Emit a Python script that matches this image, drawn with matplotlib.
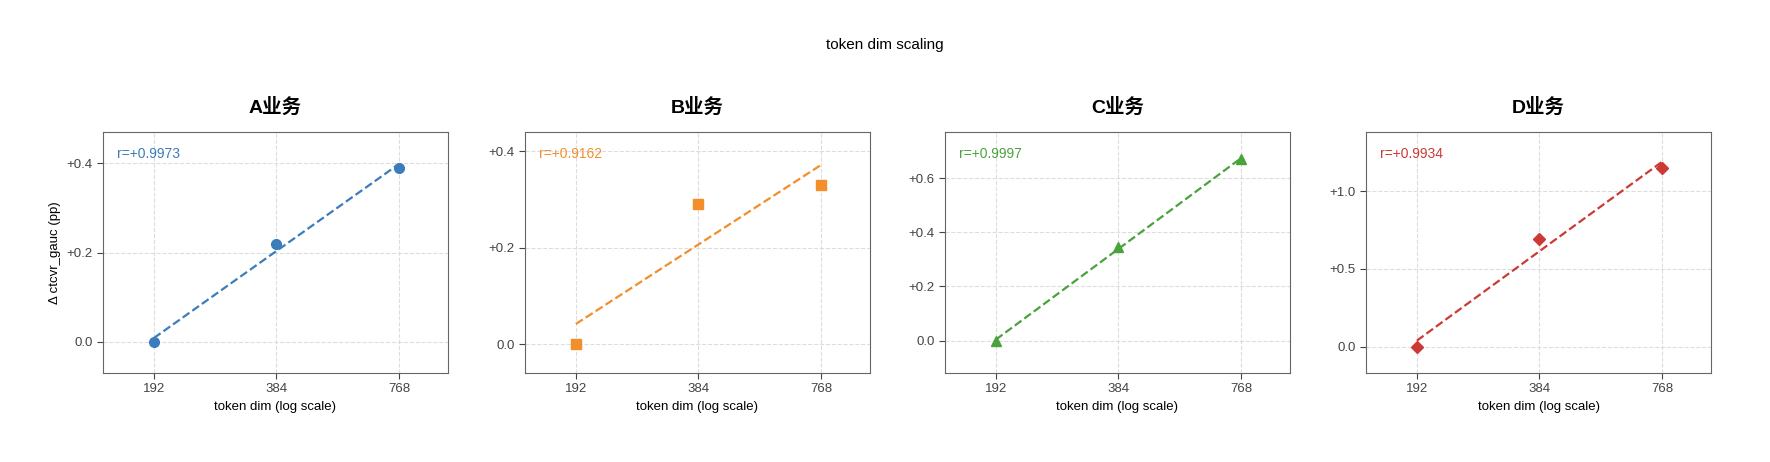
import matplotlib
matplotlib.use('Agg')
import matplotlib.pyplot as plt
import numpy as np

plt.rcParams['font.family'] = ['Liberation Sans', 'Noto Sans CJK SC', 'DejaVu Sans']
plt.rcParams['axes.unicode_minus'] = False

dims = [192, 384, 768]
names = ['A业务', 'B业务', 'C业务', 'D业务']
vals_a = [0.0, 0.22, 0.39]
vals_b = [0.0, 0.29, 0.33]
vals_c = [0.0, 0.345, 0.67]
vals_d = [0.0, 0.69, 1.15]
r_vals = ['+0.9973', '+0.9162', '+0.9997', '+0.9934']
colors = ['#3b7dba', '#f28e2b', '#4aa23c', '#cc3a35']
markers = ['o', 's', '^', 'D']
yticks = [[0, 0.2, 0.4], [0, 0.2, 0.4], [0, 0.2, 0.4, 0.6], [0, 0.5, 1.0]]
ylims = [(-0.07, 0.47), (-0.06, 0.44), (-0.12, 0.77), (-0.17, 1.38)]

W, H = 1770, 462
fig = plt.figure(figsize=(W / 100, H / 100), dpi=100)
fig.text(0.5, 1 - 45 / H, 'token dim scaling', ha='center', va='center', fontsize=11)
lefts = [103, 525, 945, 1366]
series = [vals_a, vals_b, vals_c, vals_d]
for i, (name, vals) in enumerate(zip(names, series)):
    ax = fig.add_axes([lefts[i] / W, 1 - 373 / H, 345 / W, 241 / H])
    c = colors[i]
    x = np.log2(dims)
    k, b = np.polyfit(x, vals, 1)
    ax.plot(dims, k * x + b, '--', color=c, lw=1.6)
    ax.plot(dims, vals, markers[i], color=c, ms=7 if i != 3 else 6, zorder=3)
    ax.set_xscale('log')
    ax.set_xlim(144, 1013)
    ax.set_xticks(dims)
    ax.set_xticklabels([str(d) for d in dims])
    ax.minorticks_off()
    ax.set_ylim(*ylims[i])
    ax.set_yticks(yticks[i])
    ax.set_yticklabels(['0.0' if t == 0 else f'+{t:.1f}' for t in yticks[i]])
    ax.grid(True, ls='--', color='#dddddd', lw=0.8)
    for s in ax.spines.values():
        s.set_color('#666666')
    ax.tick_params(colors='#444444', labelsize=9.5, length=4)
    ax.set_xlabel('token dim (log scale)', fontsize=9.5)
    ax.set_title(name, fontsize=14, fontweight='bold', pad=14)
    ax.text(0.04, 0.91, 'r=' + r_vals[i], color=c, transform=ax.transAxes, fontsize=10, va='center')
    if i == 0:
        ax.set_ylabel('Δ ctcvr_gauc (pp)', fontsize=9.5)

fig.savefig('out.png', dpi=100)
